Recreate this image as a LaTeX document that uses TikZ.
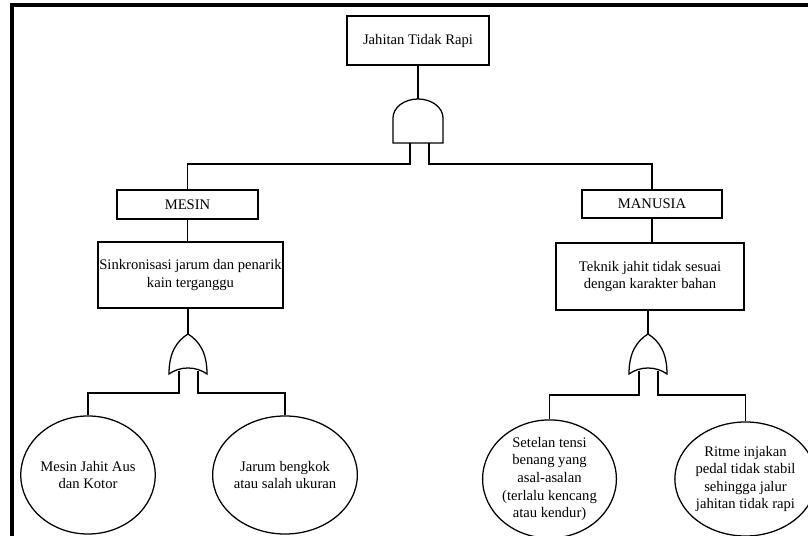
\documentclass[tikz,border=0pt]{standalone}
\usepackage{fontspec}
\setmainfont{Liberation Serif}
\usetikzlibrary{shapes.geometric}

\tikzset{
  box/.style={draw, rectangle, align=center, inner sep=0pt, line width=0.9pt},
  event/.style={draw, ellipse, align=center, inner sep=0pt, line width=0.9pt},
  wire/.style={line width=0.9pt},
}

\begin{document}
\begin{tikzpicture}[x=0.025cm, y=-0.025cm, font=\fontsize{10.4}{12.5}\selectfont]

   \useasboundingbox (0,0) rectangle (808,536);

   % frame
   \draw [line width=2.2pt] (12,545) -- (12,5) -- (815,5);

   % top event and AND gate
   \node [box, minimum width=3.55cm, minimum height=1.225cm] (top) at (418,40.5) {Jahitan Tidak Rapi};

   \coordinate (andtop) at (418,99);
   \coordinate (andL) at (410,143);
   \coordinate (andR) at (429,143);
   \draw [wire] (393,143) -- (393,118) .. controls (393,107.5) and (404.2,99) .. (418,99)
                .. controls (431.8,99) and (443,107.5) .. (443,118) -- (443,143) -- cycle;

   % categories
   \node [box, minimum width=3.525cm, minimum height=0.725cm] (mesin) at (187.5,204.5) {MESIN};
   \node [box, minimum width=3.5cm, minimum height=0.7cm] (manusia) at (652,204) {MANUSIA};

   \node [box, minimum width=4.625cm, minimum height=1.65cm] (sink) at (190.5,275)
         {Sinkronisasi jarum dan penarik\\kain terganggu};
   \node [box, minimum width=4.7cm, minimum height=1.675cm] (teknik) at (650,276.5)
         {Teknik jahit tidak sesuai\\dengan karakter bahan};

   % OR gates
   \coordinate (orAtop) at (188,334);
   \coordinate (orAL) at (179,371);
   \coordinate (orAR) at (198,371);
   \draw [wire] (169,374) .. controls (169,352) and (177,341) .. (188,334)
                .. controls (199,341) and (207,352) .. (207,374)
                .. controls (196,366) and (180,366) .. cycle;

   \coordinate (orBtop) at (648,334);
   \coordinate (orBL) at (639,371);
   \coordinate (orBR) at (658,371);
   \draw [wire] (629,374) .. controls (629,352) and (637,341) .. (648,334)
                .. controls (659,341) and (667,352) .. (667,374)
                .. controls (656,366) and (640,366) .. cycle;

   % basic events
   \node [event, minimum width=3.35cm, minimum height=2.95cm] (c1) at (88,475)
         {Mesin Jahit Aus\\dan Kotor};
   \node [event, minimum width=3.1cm, minimum height=2.95cm] (c2) at (285,475)
         {Jarum bengkok\\atau salah ukuran};
   \node [event, minimum width=3.125cm, minimum height=2.85cm] (c3) at (549.5,479)
         {Setelan tensi\\benang yang\\asal-asalan\\(terlalu kencang\\atau kendur)};
   \node [event, minimum width=3.1cm, minimum height=2.85cm] (c4) at (745.5,479)
         {Ritme injakan\\pedal tidak stabil\\sehingga jalur\\jahitan tidak rapi};

   % connectors
   \draw [wire] (top.south) -- (andtop);
   \draw [wire] (andL) -- ++(0,21) -| (mesin.north);
   \draw [wire] (andR) -- ++(0,21) -| (manusia.north);

   \draw [wire] (mesin.south) -- (mesin.south |- sink.north);
   \draw [wire] (manusia.south) -- (manusia.south |- teknik.north);

   \draw [wire] (orAtop |- sink.south) -- (orAtop);
   \draw [wire] (orBtop |- teknik.south) -- (orBtop);

   \draw [wire] (orAL) -- ++(0,22) -| (c1.north);
   \draw [wire] (orAR) -- ++(0,22) -| (c2.north);
   \draw [wire] (orBL) -- ++(0,24) -| (c3.north);
   \draw [wire] (orBR) -- ++(0,24) -| (c4.north);

\end{tikzpicture}
\end{document}
